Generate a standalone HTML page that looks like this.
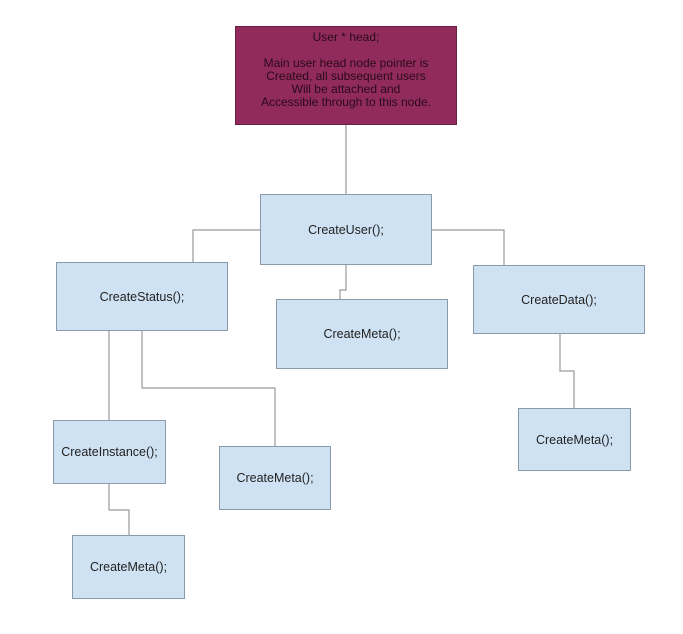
<!DOCTYPE html>
<html><head><style>
body{margin:0;background:#fff;width:683px;height:634px;position:relative;overflow:hidden;font-family:"Liberation Sans",Arial,sans-serif;}
.b{position:absolute;box-sizing:border-box;background:#cfe2f3;border:1px solid #8a9aa8;display:flex;align-items:center;justify-content:center;font-size:12.5px;color:#222;text-align:center;}
.h{background:#902b5c;border-color:#6a1f44;color:#2a0a18;align-items:flex-start;line-height:13px;padding-top:4px;font-size:12px;}
svg{position:absolute;left:0;top:0}
</style></head><body>
<svg width="683" height="634"><g stroke="#9a9a9a" stroke-width="1.2" fill="none">
<path d="M346 125V194"/>
<path d="M260 230H193V262"/>
<path d="M432 230H504V265"/>
<path d="M346 265V290H340V299"/>
<path d="M109 331V420"/>
<path d="M142 331V388H275V446"/>
<path d="M109 484V510H129V535"/>
<path d="M560 334V371H574V408"/>
</g></svg>
<div class="b h" style="left:235px;top:26px;width:222px;height:99px">User * head;<br><br>Main user head node pointer is<br>Created, all subsequent users<br>Will be attached and<br>Accessible through to this node.</div>
<div class="b" style="left:260px;top:194px;width:172px;height:71px">CreateUser();</div>
<div class="b" style="left:56px;top:262px;width:172px;height:69px">CreateStatus();</div>
<div class="b" style="left:276px;top:299px;width:172px;height:70px">CreateMeta();</div>
<div class="b" style="left:473px;top:265px;width:172px;height:69px">CreateData();</div>
<div class="b" style="left:518px;top:408px;width:113px;height:63px">CreateMeta();</div>
<div class="b" style="left:53px;top:420px;width:113px;height:64px">CreateInstance();</div>
<div class="b" style="left:219px;top:446px;width:112px;height:64px">CreateMeta();</div>
<div class="b" style="left:72px;top:535px;width:113px;height:64px">CreateMeta();</div>
</body></html>
